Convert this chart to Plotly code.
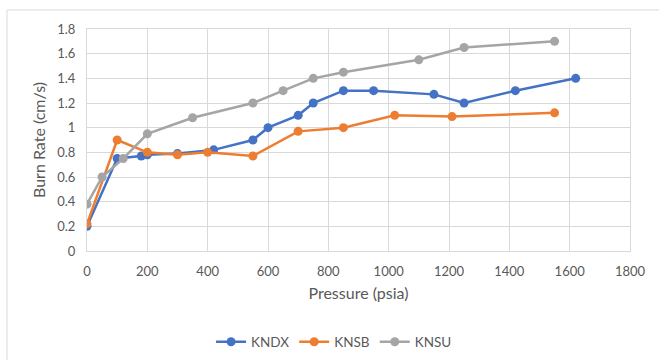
import plotly.graph_objects as go

kndx_x = [0, 100, 180, 200, 300, 420, 550, 600, 700, 750, 850, 950, 1150, 1250, 1420, 1620]
kndx_y = [0.20, 0.75, 0.77, 0.78, 0.79, 0.82, 0.90, 1.00, 1.10, 1.20, 1.30, 1.30, 1.27, 1.20, 1.30, 1.40]

knsb_x = [0, 100, 200, 300, 400, 550, 700, 850, 1020, 1210, 1550]
knsb_y = [0.22, 0.90, 0.80, 0.78, 0.80, 0.77, 0.97, 1.00, 1.10, 1.09, 1.12]

knsu_x = [0, 50, 120, 200, 350, 550, 650, 750, 850, 1100, 1250, 1550]
knsu_y = [0.38, 0.60, 0.75, 0.95, 1.08, 1.20, 1.30, 1.40, 1.45, 1.55, 1.65, 1.70]

series = [
    ("KNDX", kndx_x, kndx_y, "#4472C4"),
    ("KNSB", knsb_x, knsb_y, "#ED7D31"),
    ("KNSU", knsu_x, knsu_y, "#A5A5A5"),
]

FONT = "Lato, Open Sans, sans-serif"
GRID = "#d9d9d9"
TXT = "#595959"

fig = go.Figure()
for name, xs, ys, col in series:
    fig.add_trace(go.Scatter(
        x=xs, y=ys, name=name, mode="lines+markers",
        line=dict(color=col, width=2.5),
        marker=dict(color=col, size=9),
    ))

fig.update_layout(
    width=659, height=360,
    margin=dict(l=87, r=29, t=29, b=109, autoexpand=False),
    paper_bgcolor="white", plot_bgcolor="white",
    font=dict(family=FONT, size=13, color=TXT),
    showlegend=True,
    legend=dict(orientation="h", x=0.455, xanchor="center", y=-0.41, yanchor="middle",
                font=dict(size=13.5, color=TXT), itemwidth=30),
    xaxis=dict(
        range=[0, 1800], dtick=200, tick0=0,
        showgrid=True, gridcolor=GRID, gridwidth=1,
        showline=True, linecolor=GRID, linewidth=1, mirror=True,
        zeroline=False,
        ticks="outside", ticklen=8, tickcolor="rgba(0,0,0,0)",
        tickfont=dict(size=13, color=TXT),
        title=dict(text="Pressure (psia)", font=dict(size=16, color=TXT), standoff=10),
    ),
    yaxis=dict(
        range=[0, 1.8], dtick=0.2, tick0=0,
        showgrid=True, gridcolor=GRID, gridwidth=1,
        showline=True, linecolor=GRID, linewidth=1, mirror=True,
        zeroline=False,
        ticks="outside", ticklen=8, tickcolor="rgba(0,0,0,0)",
        tickfont=dict(size=13, color=TXT),
        tickformat="~g",
        title=dict(text="Burn Rate (cm/s)", font=dict(size=16, color=TXT), standoff=7),
    ),
)

fig.add_shape(type="rect", xref="paper", yref="paper",
              x0=(7 - 87) / 543, x1=(700 - 87) / 543,
              y0=(251 - 400) / 222, y1=(251 - 10) / 222,
              line=dict(color=GRID, width=1), fillcolor="rgba(0,0,0,0)", layer="below")

fig.write_html("out.html")
